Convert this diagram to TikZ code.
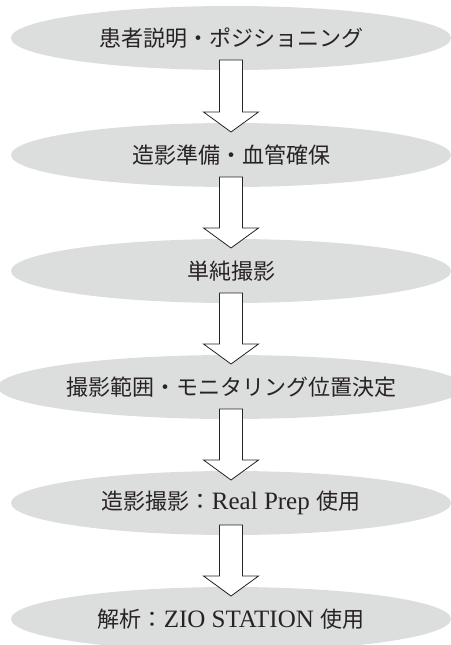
\documentclass[tikz,border=0pt]{standalone}
\usepackage{fontspec}
\setmainfont{Liberation Serif}
\newfontfamily\cjk{Noto Sans CJK JP}
\usetikzlibrary{shapes.geometric,calc}
\definecolor{ellfill}{RGB}{220,221,221}
\definecolor{inkc}{RGB}{40,35,35}
\newcommand\jp[1]{{\cjk\fontsize{22}{26}\selectfont #1}}
\newcommand\flowarrow[2]{%
  \draw[arrowbox] ($(#1)+(-11.5,22)$) -- ($(#2)+(-11.5,-43)$) -- ($(#2)+(-27.5,-43)$)
    -- ($(#2)+(0,-23)$) -- ($(#2)+(27.5,-43)$) -- ($(#2)+(11.5,-43)$)
    -- ($(#1)+(11.5,22)$) -- cycle;}
\tikzset{
  stepell/.style={ellipse, fill=ellfill, draw=none, minimum width=440pt, minimum height=64pt,
    inner sep=0pt, text=inkc, font=\fontsize{25}{28}\selectfont},
  arrowbox/.style={draw=inkc, fill=white, line width=0.8pt, line join=miter}
}
\begin{document}
\begin{tikzpicture}[x=1pt,y=-1pt]
\useasboundingbox (0,0) rectangle (450,645);
\node[stepell] (s1) at (231,38) {\jp{患者説明・ポジショニング}};
\node[stepell] (s2) at (231,155) {\jp{造影準備・血管確保}};
\node[stepell] (s3) at (231,271) {\jp{単純撮影}};
\node[stepell] (s4) at (231,387) {\jp{撮影範囲・モニタリング位置決定}};
\node[stepell] (s5) at (231,503) {\jp{造影撮影：}Real Prep \jp{使用}};
\node[stepell] (s6) at (231,619) {\jp{解析：}ZIO STATION \jp{使用}};
\flowarrow{s1}{s2}
\flowarrow{s2}{s3}
\flowarrow{s3}{s4}
\flowarrow{s4}{s5}
\flowarrow{s5}{s6}
\end{tikzpicture}
\end{document}
